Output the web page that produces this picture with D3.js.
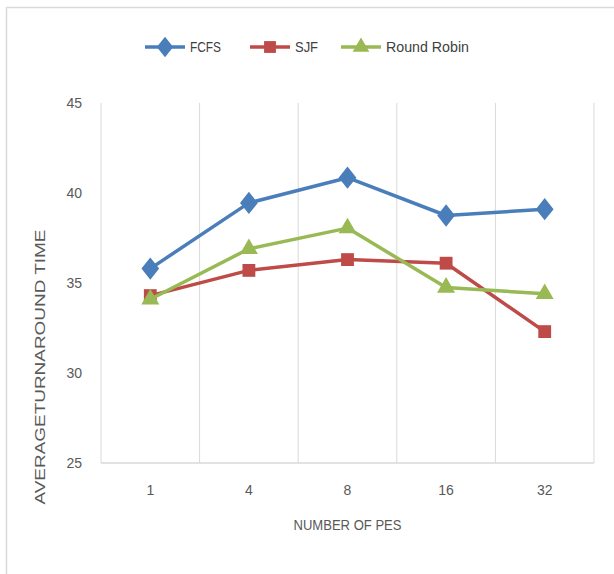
<!DOCTYPE html>
<html><head><meta charset="utf-8">
<script src="https://cdn.jsdelivr.net/npm/d3@7/dist/d3.min.js"></script>
<style>body{margin:0;background:#fff}text{font-family:"Liberation Sans Narrow","Liberation Sans",Arial,sans-serif}</style>
</head><body><svg id="c" width="614" height="574"></svg>
<script>
const categories = ["1","4","8","16","32"];
const fcfs = [35.8, 39.45, 40.85, 38.75, 39.1];
const sjf = [34.3, 35.7, 36.3, 36.1, 32.3];
const roundRobin = [34.1, 36.9, 38.05, 34.75, 34.4];
const yTicks = [25, 30, 35, 40, 45];
const seriesNames = ["FCFS", "SJF", "Round Robin"];
const colors = ["#4A7EBB", "#BE4B48", "#98B954"];

const svg = d3.select("#c");
svg.append("rect").attr("x",6.5).attr("y",7.5).attr("width",640).attr("height",600)
  .attr("fill","#fff").attr("stroke","#d9d9d9").attr("stroke-width",1.5);

const L=101, R=594, T=103, B=463;
const x = d3.scaleBand().domain(categories).range([L,R]);
const y = d3.scaleLinear().domain([25,45]).range([B,T]);

const edges = categories.map(c=>x(c)).concat([R]);
svg.append("g").selectAll("line").data(edges.slice(1)).join("line")
  .attr("x1",d=>d).attr("x2",d=>d).attr("y1",T).attr("y2",B)
  .attr("stroke","#d9d9d9").attr("stroke-width",1);
svg.append("line").attr("x1",L).attr("x2",L).attr("y1",T).attr("y2",B).attr("stroke","#d9d9d9");
svg.append("line").attr("x1",L).attr("x2",R).attr("y1",B).attr("y2",B).attr("stroke","#d9d9d9").attr("stroke-width",1.5);

const yAxis = d3.axisLeft(y).tickValues(yTicks).tickSize(0).tickPadding(19);
const gy = svg.append("g").attr("transform",`translate(${L},0)`).call(yAxis);
gy.select(".domain").remove();
gy.selectAll("text").attr("font-size",14).attr("fill","#595959");

const xAxis = d3.axisBottom(x).tickSize(0).tickPadding(22);
const gx = svg.append("g").attr("transform",`translate(0,${B})`).call(xAxis);
gx.select(".domain").remove();
gx.selectAll("text").attr("font-size",14).attr("fill","#595959");

svg.append("text").attr("x",x("8")+x.bandwidth()/2).attr("y",530).attr("text-anchor","middle")
  .attr("font-size",14).attr("fill","#595959").attr("textLength",108).attr("lengthAdjust","spacingAndGlyphs").text("NUMBER OF PES");
svg.append("text").attr("transform","translate(45,367) rotate(-90)").attr("text-anchor","middle")
  .attr("font-size",14).attr("fill","#595959").attr("textLength",275).attr("lengthAdjust","spacingAndGlyphs")
  .text("AVERAGETURNAROUND TIME");

const data = [fcfs, sjf, roundRobin];
const shapes = [d3.symbolDiamond, d3.symbolSquare, d3.symbolTriangle];
const sizes = [130, 165, 140];
const dScale = " scale(1.45,1.05)";
const line = d3.line().x((d,i)=>x(categories[i])+x.bandwidth()/2).y(d=>y(d));
data.forEach((s,k)=>{
  svg.append("path").attr("d",line(s)).attr("fill","none").attr("stroke",colors[k]).attr("stroke-width",3.5).attr("stroke-linejoin","round");
  svg.append("g").selectAll("path").data(s).join("path")
    .attr("transform",(d,i)=>`translate(${x(categories[i])+x.bandwidth()/2},${y(d)})${k==0?dScale:""}`)
    .attr("d",d3.symbol().type(shapes[k]).size(sizes[k])).attr("fill",colors[k]);
});

const legX = [145, 250, 341];
const legW = [31, 23, 83];
const lg = svg.append("g");
seriesNames.forEach((n,k)=>{
  const g = lg.append("g").attr("transform",`translate(${legX[k]},47)`);
  g.append("line").attr("x1",0).attr("x2",40).attr("stroke",colors[k]).attr("stroke-width",3.5);
  g.append("path").attr("transform",`translate(20,0)${k==0?dScale:""}`).attr("d",d3.symbol().type(shapes[k]).size(sizes[k]*0.85)).attr("fill",colors[k]);
  g.append("text").attr("x",45).attr("y",5).attr("font-size",14).attr("fill","#404040")
    .attr("textLength",legW[k]).attr("lengthAdjust","spacingAndGlyphs").text(n);
});
</script></body></html>
